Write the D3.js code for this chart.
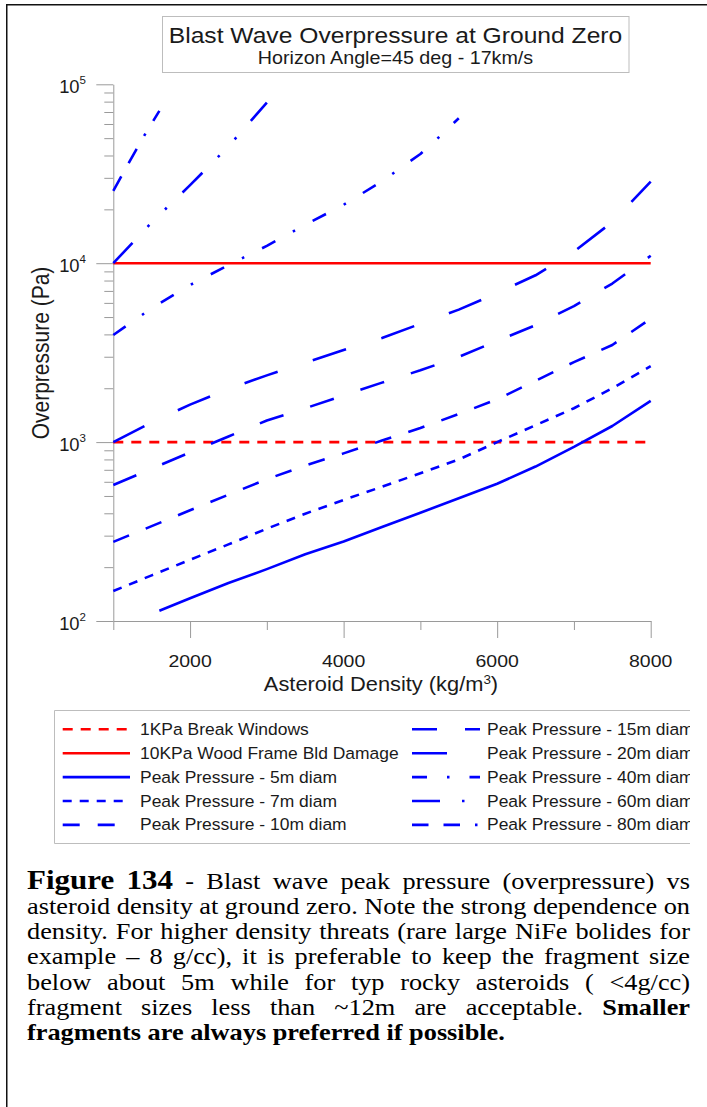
<!DOCTYPE html>
<html><head><meta charset="utf-8">
<script src="https://cdn.jsdelivr.net/npm/d3@7"></script>
<style>
html,body{margin:0;padding:0;background:#fff;}
svg{display:block;}
</style></head>
<body>
<svg id="fig" width="707" height="1107"></svg>
<script>
// ---------------- DATA ----------------
const densityMajorTicks = [2000, 4000, 6000, 8000];
const densityMinorTicks = [1000, 3000, 5000, 7000];
const pressureDecades = [100, 1000, 10000, 100000];
const decadeExponents = ["2", "3", "4", "5"];

const limitDensity = [1000, 8000];
const p1kPa = [1000, 1000];
const p10kPa = [10000, 10000];

const dens5m = [1600, 2000, 2500, 3000, 3500, 4000, 4500, 5000, 5500, 6000, 6500, 7000, 7500, 8000];
const p5m    = [114, 134, 163, 195, 236, 278, 335, 403, 485, 585, 730, 940, 1230, 1700];

const dens7m = [1000, 1500, 2000, 2500, 3000, 3500, 4000, 4500, 5000, 5500, 6000, 6500, 7000, 7500, 8000];
const p7m    = [147, 180, 220, 268, 328, 398, 475, 563, 670, 800, 1000, 1242, 1546, 2000, 2660];

const dens10m = [1000, 1500, 2000, 2500, 3000, 3500, 4000, 4500, 5000, 5500, 6000, 6500, 7000, 7500, 8000];
const p10m    = [277, 339, 416, 508, 620, 740, 865, 1020, 1200, 1435, 1735, 2200, 2800, 3490, 4900];

const dens15m = [1000, 1500, 2000, 2500, 3000, 3500, 4000, 4500, 5000, 5500, 6000, 6500, 7000, 7500, 8000];
const p15m    = [576, 710, 875, 1075, 1320, 1545, 1825, 2150, 2520, 2995, 3680, 4500, 5760, 7700, 11000];

const dens20m = [1000, 1500, 2000, 2500, 3000, 3500, 4000, 4500, 5000, 5500, 6000, 6500, 7000, 7500, 8000];
const p20m    = [1000, 1290, 1620, 1980, 2360, 2780, 3270, 3820, 4580, 5500, 6810, 8560, 11600, 17000, 28600];

const dens40m = [1000, 1500, 2000, 2500, 3000, 3500, 4000, 4500, 5000, 5250, 5500];
const p40m    = [3970, 5600, 7550, 9760, 12500, 16400, 21200, 28700, 40800, 51000, 64600];

const dens60m = [1000, 1500, 2000, 2500, 3000];
const p60m    = [10000, 16900, 27300, 45000, 79000];

const dens80m = [1000, 1200, 1400, 1600];
const p80m    = [25400, 36300, 51400, 71000];

const legendLabels = [
  "1KPa Break Windows", "10KPa Wood Frame Bld Damage", "Peak Pressure - 5m diam",
  "Peak Pressure - 7m diam", "Peak Pressure - 10m diam", "Peak Pressure - 15m diam",
  "Peak Pressure - 20m diam", "Peak Pressure - 40m diam", "Peak Pressure - 60m diam",
  "Peak Pressure - 80m diam"
];

const titleText = "Blast Wave Overpressure at Ground Zero";
const subtitleText = "Horizon Angle=45 deg - 17km/s";
const xTitle = "Asteroid Density (kg/m";
const yTitle = "Overpressure (Pa)";

// [text, bold, isFigureLabel]
const captionLines = [
  [["Figure 134", true, true], ["- Blast wave peak pressure (overpressure) vs", false]],
  [["asteroid density at ground zero. Note the strong dependence on", false]],
  [["density. For higher density threats (rare large NiFe bolides for", false]],
  [["example \u2013 8 g/cc), it is preferable to keep the fragment size", false]],
  [["below about 5m while for typ rocky asteroids ( <4g/cc)", false]],
  [["fragment sizes less than ~12m are acceptable.", false], ["Smaller", true]],
  [["fragments are always preferred if possible.", true]]
];

// ---------------- STYLES ----------------
const RED = "#ff0000", BLUE = "#0000ff", AXIS = "#9a9a9a", TXT = "#1a1a1a";
const SANS = "'Liberation Sans', Arial, sans-serif";
const SERIF = "'Liberation Serif', 'Times New Roman', serif";
const SX = 1.12; // horizontal stretch of the chart text

const series = [
  {d: limitDensity, p: p1kPa,  color: RED,  dash: "10,8"},
  {d: limitDensity, p: p10kPa, color: RED,  dash: null},
  {d: dens5m,  p: p5m,  color: BLUE, dash: null},
  {d: dens7m,  p: p7m,  color: BLUE, dash: "9,8"},
  {d: dens10m, p: p10m, color: BLUE, dash: "17,18"},
  {d: dens15m, p: p15m, color: BLUE, dash: "25,28"},
  {d: dens20m, p: p20m, color: BLUE, dash: "35,37"},
  {d: dens40m, p: p40m, color: BLUE, dash: "15,20,2.5,20"},
  {d: dens60m, p: p60m, color: BLUE, dash: "28,22,2.5,22,2.5,22"},
  {d: dens80m, p: p80m, color: BLUE, dash: "16.5,15,16.5,15,2.5,15"}
];

// ---------------- SCALES ----------------
const x = d3.scaleLinear().domain([1000, 8000]).range([113.3, 650.7]);
const y = d3.scaleLog().domain([100, 100000]).range([621, 84.3]);

const svg = d3.select("#fig");

// outer frame
svg.append("rect").attr("x", 6.75).attr("y", 4.75).attr("width", 730).attr("height", 1130)
  .attr("fill", "none").attr("stroke", "#111").attr("stroke-width", 1.5);

function stext(g, px, py, str, size, anchor, opts = {}) {
  return g.append("text")
    .attr("transform", `translate(${px},${py}) scale(${opts.sx || SX},1)`)
    .attr("text-anchor", anchor)
    .attr("font-family", opts.family || SANS)
    .attr("font-size", size)
    .attr("fill", opts.fill || TXT)
    .text(str);
}

// title box
svg.append("rect").attr("x", 162.5).attr("y", 16.5).attr("width", 466.5).attr("height", 56)
  .attr("fill", "#fff").attr("stroke", "#bdbdbd").attr("stroke-width", 1);
stext(svg, 395.5, 43, titleText, 22, "middle");
stext(svg, 395.5, 63.5, subtitleText, 17.6, "middle");

// ---------------- AXES ----------------
const gx = svg.append("g").attr("transform", `translate(0,${y(100)})`)
  .call(d3.axisBottom(x).tickValues(densityMajorTicks).tickSize(17).tickSizeOuter(0).tickFormat(""));
gx.selectAll("path,line").attr("stroke", AXIS);
const gxm = svg.append("g").attr("transform", `translate(0,${y(100)})`)
  .call(d3.axisBottom(x).tickValues(densityMinorTicks).tickSize(9).tickSizeOuter(0).tickFormat(""));
gxm.select(".domain").remove();
gxm.selectAll("line").attr("stroke", AXIS);

densityMajorTicks.forEach(v => stext(svg, x(v), 666.5, String(v), 17.4, "middle"));

const minorP = [];
pressureDecades.slice(0, 3).forEach(dv => { for (let k = 2; k <= 9; k++) minorP.push(dv * k); });

const gy = svg.append("g").attr("transform", `translate(${x(1000)},0)`)
  .call(d3.axisLeft(y).tickValues(pressureDecades).tickSize(17).tickSizeOuter(0).tickFormat(""));
gy.selectAll("path,line").attr("stroke", AXIS);
const gym = svg.append("g").attr("transform", `translate(${x(1000)},0)`)
  .call(d3.axisLeft(y).tickValues(minorP).tickSize(9).tickSizeOuter(0).tickFormat(""));
gym.select(".domain").remove();
gym.selectAll("line").attr("stroke", AXIS);

pressureDecades.forEach((v, i) => {
  const t = svg.append("text")
    .attr("transform", `translate(86,${y(v) + 8.5}) scale(1.05,1)`)
    .attr("text-anchor", "end").attr("font-family", SANS).attr("fill", TXT);
  t.append("tspan").attr("font-size", 17.5).text("10");
  t.append("tspan").attr("font-size", 11).attr("dy", -8.5).text(decadeExponents[i]);
});

// axis titles
const xt = svg.append("text")
  .attr("transform", `translate(381,690.5) scale(${SX},1)`)
  .attr("text-anchor", "middle").attr("font-family", SANS).attr("fill", TXT).attr("font-size", 19.5);
xt.append("tspan").text(xTitle);
xt.append("tspan").attr("font-size", 12).attr("dy", -7).text("3");
xt.append("tspan").attr("dy", 7).text(")");

svg.append("text")
  .attr("transform", `translate(49,353) rotate(-90) scale(1,${SX})`)
  .attr("text-anchor", "middle").attr("font-family", SANS).attr("fill", TXT).attr("font-size", 21)
  .text(yTitle);

// ---------------- LINES ----------------
const line = d3.line().x(d => x(d[0])).y(d => y(d[1]));
const gl = svg.append("g");
series.forEach(s => {
  const pts = s.d.map((dv, i) => [dv, s.p[i]]);
  gl.append("path").datum(pts).attr("d", line)
    .attr("fill", "none").attr("stroke", s.color).attr("stroke-width", 2.6)
    .attr("stroke-dasharray", s.dash).attr("stroke-linejoin", "round");
});

// ---------------- LEGEND ----------------
svg.append("defs").append("clipPath").attr("id", "lclip")
  .append("rect").attr("x", 0).attr("y", 690).attr("width", 690).attr("height", 170);
const lg = svg.append("g").attr("clip-path", "url(#lclip)");
lg.append("path").attr("d", "M710,710.5 H54.5 V843.5 H710")
  .attr("fill", "none").attr("stroke", "#bdbdbd").attr("stroke-width", 1);
legendLabels.forEach((lab, i) => {
  const col = i < 5 ? 0 : 1, row = i % 5;
  const ry = 729.3 + row * 23.9;
  const x0 = col ? 412 : 62.7, x1 = col ? 480 : 130, tx = col ? 487 : 140;
  const s = series[i];
  lg.append("line").attr("x1", x0).attr("x2", x1).attr("y1", ry).attr("y2", ry)
    .attr("stroke", s.color).attr("stroke-width", 2.6).attr("stroke-dasharray", s.dash);
  stext(lg, tx, ry + 5.5, lab, 15.6, "start");
});

// ---------------- CAPTION ----------------
const CS = 1.17, CFS = 22.5, FIGFS = 26.5, CX0 = 27, CW = 663;
const cap = svg.append("g").attr("transform", `scale(${CS},1)`);
const baseY = 889, lineGap = 25.15;
captionLines.forEach((segs, li) => {
  const words = [];
  segs.forEach(([txt, bold, fig]) => txt.split(" ").filter(w => w.length).forEach(w => words.push([w, bold, !!fig])));
  const by = baseY + li * lineGap;
  const last = li === captionLines.length - 1;
  const els = words.map(([w, b, f]) => cap.append("text")
    .attr("y", by).attr("font-family", SERIF).attr("font-size", f ? FIGFS : CFS)
    .attr("font-weight", b ? "bold" : "normal").attr("fill", "#000").text(w));
  const widths = els.map(e => e.node().getComputedTextLength());
  const total = d3.sum(widths);
  const target = CW / CS;
  const gap = last ? CFS * 0.25 : Math.max((target - total) / (words.length - 1), CFS * 0.15);
  let cx = CX0 / CS;
  els.forEach((e, k) => { e.attr("x", cx); cx += widths[k] + gap; });
});
</script>
</body></html>
